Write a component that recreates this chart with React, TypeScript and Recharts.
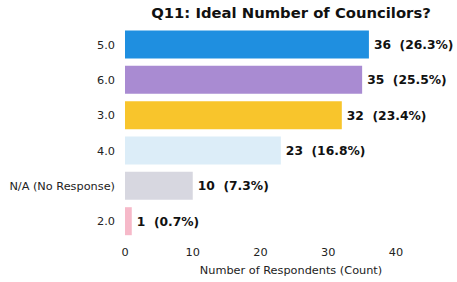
import React from 'react';
import { BarChart, Bar, XAxis, YAxis, Cell, LabelList } from 'recharts';

const categories = ['5.0', '6.0', '3.0', '4.0', 'N/A (No Response)', '2.0'];
const counts = [36, 35, 32, 23, 10, 1];
const percents = [26.3, 25.5, 23.4, 16.8, 7.3, 0.7];
const COLORS = ['#1f8fe0', '#a98bd2', '#f8c52c', '#dcedf8', '#d7d7e0', '#f6b9c9'];
const xTicks = [0, 10, 20, 30, 40];

const data = categories.map((c, i) => ({ name: c, value: counts[i], pct: percents[i] }));

const FONT = '"DejaVu Sans", sans-serif';

const renderLabel = (props: any) => {
  const { x, y, width, height, index } = props;
  const d = data[index];
  return (
    <text
      x={x + width + 5}
      y={y + height / 2}
      dy="0.35em"
      fontFamily={FONT}
      fontSize={12.3}
      fontWeight="bold"
      fill="#111"
      style={{ whiteSpace: 'pre' }}
    >
      {`${d.value}  (${d.pct.toFixed(1)}%)`}
    </text>
  );
};

const CategoryTick = (props: any) => {
  const { x, y, payload } = props;
  return (
    <text x={x} y={y} dy="0.35em" textAnchor="end" fontFamily={FONT} fontSize={11.3} fill="#222">
      {payload.value}
    </text>
  );
};

export default function App() {
  return (
    <div style={{ position: 'fixed', left: 0, top: 0, width: 457, height: 282, background: '#fff' }}>
      <div
        style={{
          position: 'absolute',
          left: 125,
          width: 332,
          top: 4,
          textAlign: 'center',
          fontFamily: FONT,
          fontSize: 14.8,
          fontWeight: 'bold',
          color: '#111',
        }}
      >
        Q11: Ideal Number of Councilors?
      </div>
      <BarChart
        width={457}
        height={282}
        data={data}
        layout="vertical"
        margin={{ top: 27, right: 0, bottom: 4, left: 0 }}
        barCategoryGap="10%"
      >
        <XAxis
          type="number"
          domain={[0, 49]}
          ticks={xTicks}
          axisLine={false}
          tickLine={false}
          tickSize={0}
          tickMargin={9}
          height={39}
          tick={{ fontFamily: FONT, fontSize: 11.3, fill: '#222' }}
          label={{
            value: 'Number of Respondents (Count)',
            position: 'insideBottom',
            offset: 4,
            style: { fontFamily: FONT, fontSize: 11.3, fill: '#222', textAnchor: 'middle' },
          }}
          allowDataOverflow
        />
        <YAxis
          type="category"
          dataKey="name"
          width={125}
          axisLine={false}
          tickLine={false}
          tickSize={0}
          tickMargin={10}
          tick={<CategoryTick />}
        />
        <Bar dataKey="value" isAnimationActive={false}>
          {data.map((entry, index) => (
            <Cell key={`cell-${index}`} fill={COLORS[index]} />
          ))}
          <LabelList dataKey="value" content={renderLabel} />
        </Bar>
      </BarChart>
    </div>
  );
}
